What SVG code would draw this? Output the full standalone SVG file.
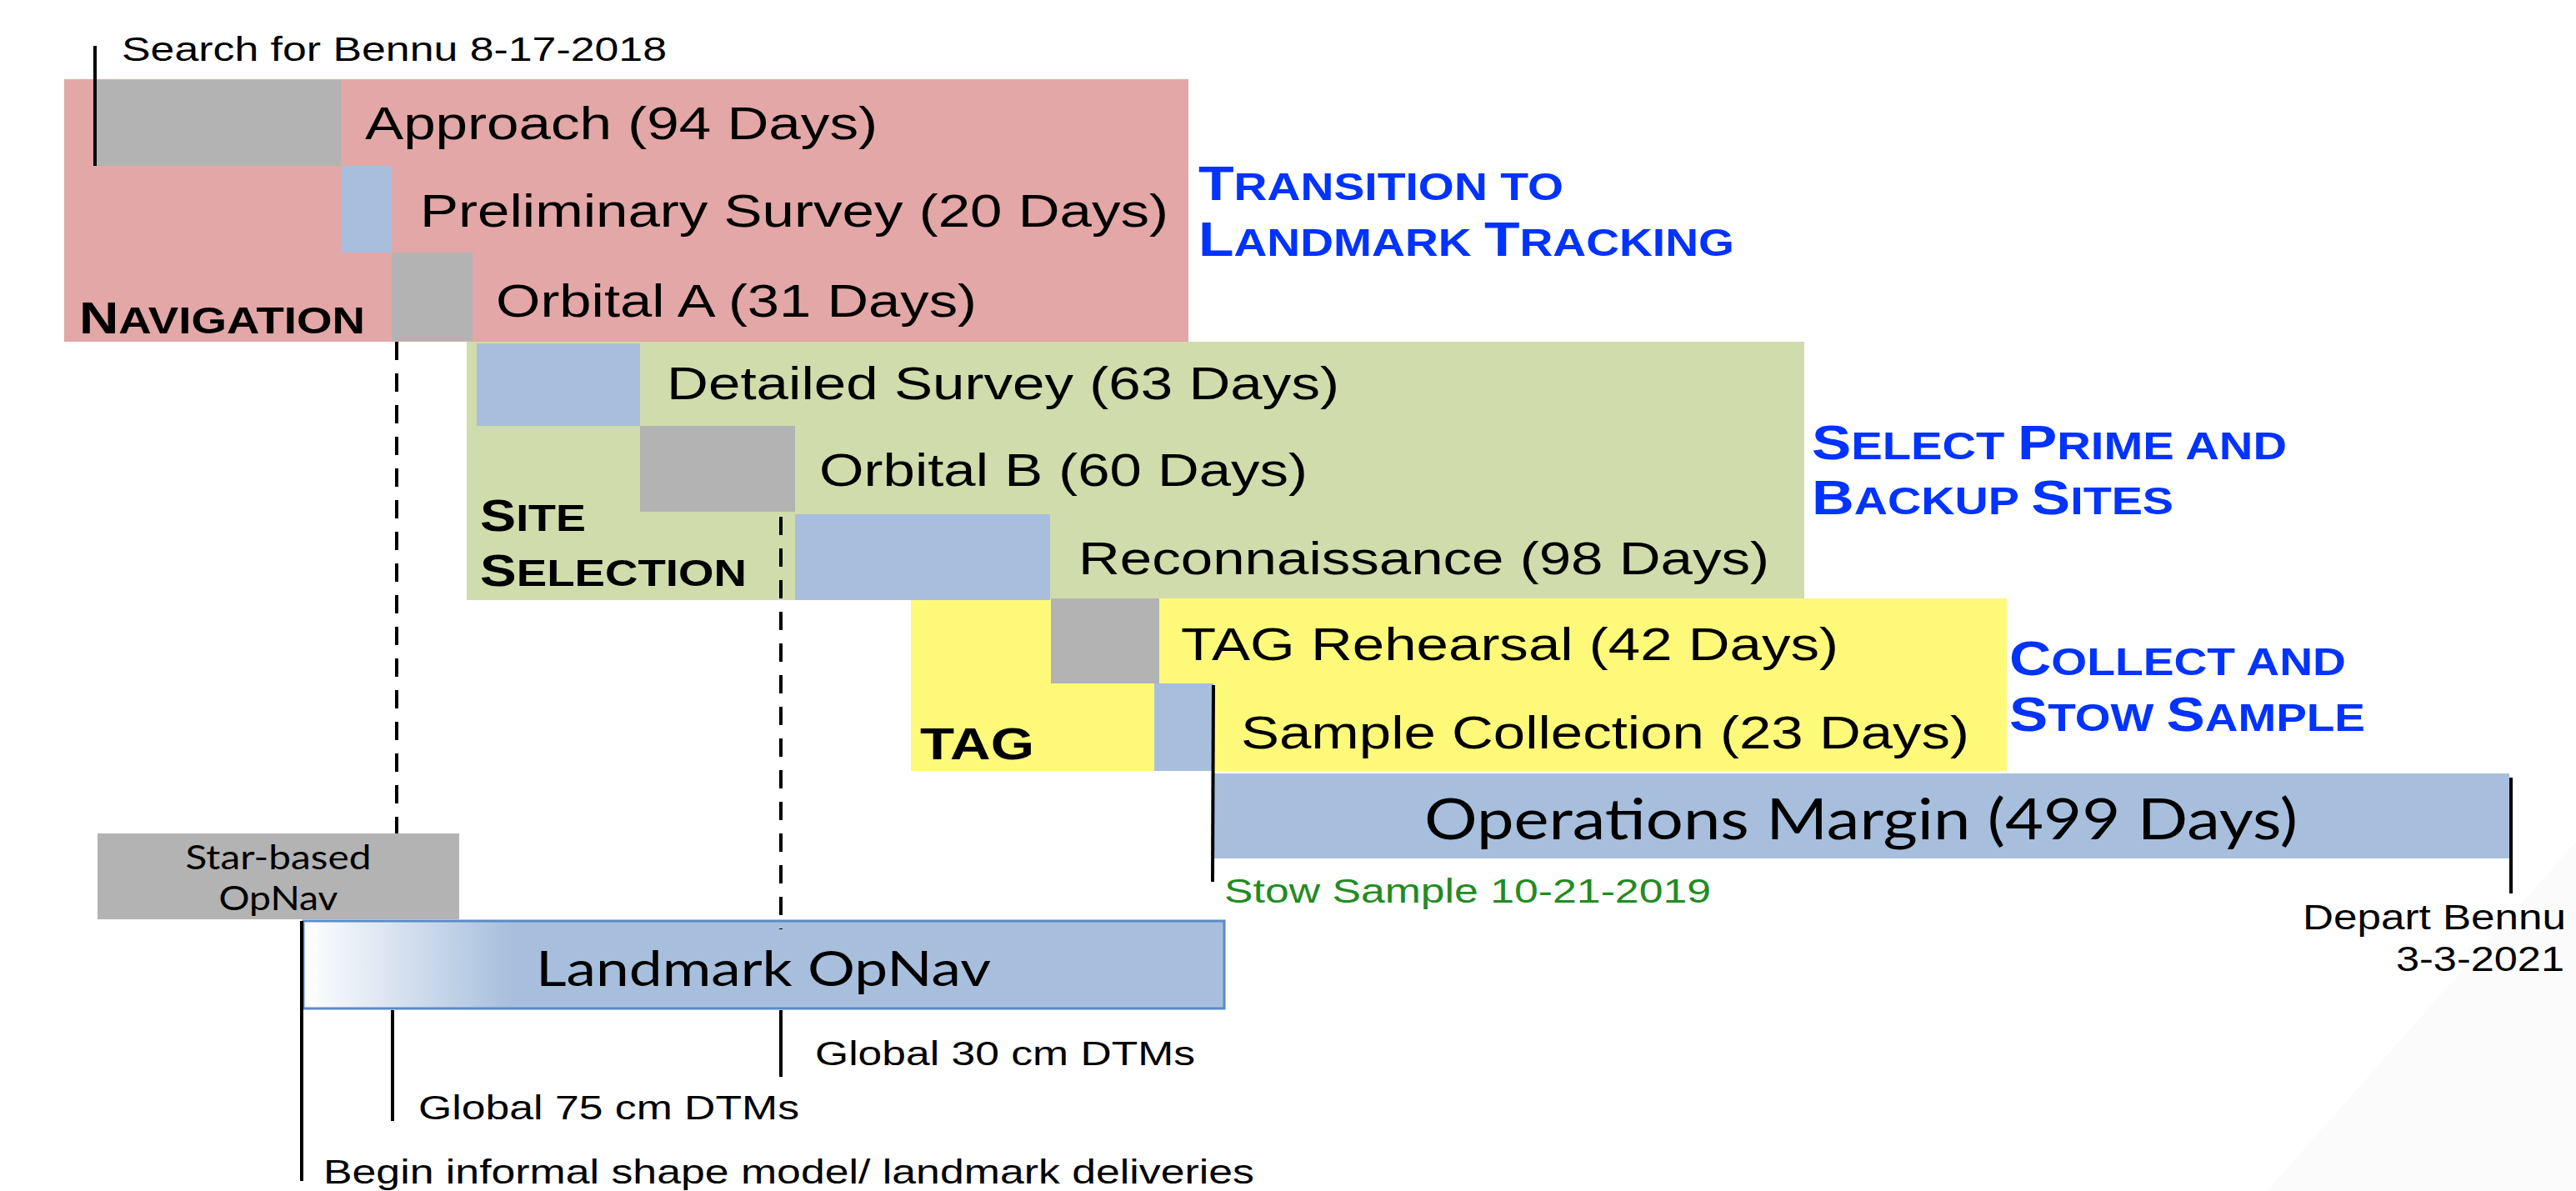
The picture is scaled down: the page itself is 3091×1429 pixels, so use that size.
<svg xmlns="http://www.w3.org/2000/svg" width="3091" height="1429" viewBox="0 0 3091 1429">
<defs>
<style>
.t{font-family:"Liberation Sans",Arial,sans-serif;fill:#000}
.ph{font-size:56px}
.sm{font-size:40px}
.cal{font-family:Lato,"Open Sans",sans-serif;fill:#000}
.lb{font-family:"Liberation Sans",Arial,sans-serif;font-weight:bold;fill:#000}
.bl{font-family:"Liberation Sans",Arial,sans-serif;font-weight:bold;fill:#0033FF}
.pink{fill:#E2A7A6}
.green{fill:#D0DCAB}
.yellow{fill:#FFF97A}
.gray{fill:#B3B3B3}
.blue{fill:#A7BFDD}
.solid{stroke:#000;stroke-width:4;fill:none}
.dash{stroke:#000;stroke-width:4;fill:none;stroke-dasharray:22 16}
</style>
<linearGradient id="lmGrad" x1="0" y1="0" x2="1" y2="0">
<stop offset="0" stop-color="#FFFFFF"/>
<stop offset="0.225" stop-color="#A7BFDD"/>
<stop offset="1" stop-color="#A7BFDD"/>
</linearGradient>
</defs>
<rect x="0" y="0" width="3091" height="1429" fill="#FFFFFF"/>
<polygon points="2720,1429 3091,1010 3091,1429" fill="#FBFBFB"/>

<g id="navigation">
<rect class="pink" x="77" y="95" width="1349" height="315"/>
<text class="lb" x="95" y="400" textLength="343" lengthAdjust="spacingAndGlyphs"><tspan font-size="54">N</tspan><tspan font-size="45">AVIGATION</tspan></text>
</g>
<g id="site-selection">
<rect class="green" x="560" y="410" width="1605" height="310"/>
<text class="lb" x="576" y="637" textLength="127" lengthAdjust="spacingAndGlyphs"><tspan font-size="54">S</tspan><tspan font-size="45">ITE</tspan></text>
<text class="lb" x="576" y="703" textLength="320" lengthAdjust="spacingAndGlyphs"><tspan font-size="54">S</tspan><tspan font-size="45">ELECTION</tspan></text>
</g>
<g id="tag">
<rect class="yellow" x="1093" y="718" width="1315" height="207"/>
<text class="lb" x="1104" y="911" font-size="54" textLength="137" lengthAdjust="spacingAndGlyphs">TAG</text>
</g>

<g id="approach">
<rect class="gray" x="116" y="96" width="293" height="103"/>
<text class="t ph" x="438" y="167" textLength="615" lengthAdjust="spacingAndGlyphs">Approach (94 Days)</text>
</g>
<g id="preliminary-survey">
<rect class="blue" x="409" y="199" width="61" height="104"/>
<text class="t ph" x="504" y="272" textLength="898" lengthAdjust="spacingAndGlyphs">Preliminary Survey (20 Days)</text>
</g>
<g id="orbital-a">
<rect class="gray" x="470" y="303" width="97" height="106"/>
<text class="t ph" x="595" y="380" textLength="577" lengthAdjust="spacingAndGlyphs">Orbital A (31 Days)</text>
</g>
<g id="detailed-survey">
<rect class="blue" x="572" y="412" width="196" height="99"/>
<text class="t ph" x="800" y="479" textLength="807" lengthAdjust="spacingAndGlyphs">Detailed Survey (63 Days)</text>
</g>
<g id="orbital-b">
<rect class="gray" x="768" y="511" width="186" height="103"/>
<text class="t ph" x="983" y="583" textLength="586" lengthAdjust="spacingAndGlyphs">Orbital B (60 Days)</text>
</g>
<g id="reconnaissance">
<rect class="blue" x="954" y="617" width="306" height="103"/>
<text class="t ph" x="1294" y="689" textLength="829" lengthAdjust="spacingAndGlyphs">Reconnaissance (98 Days)</text>
</g>
<g id="tag-rehearsal">
<rect class="gray" x="1261" y="718" width="130" height="102"/>
<text class="t ph" x="1417" y="792" textLength="789" lengthAdjust="spacingAndGlyphs">TAG Rehearsal (42 Days)</text>
</g>
<g id="sample-collection">
<rect class="blue" x="1385" y="820" width="71" height="105"/>
<text class="t ph" x="1489" y="898" textLength="874" lengthAdjust="spacingAndGlyphs">Sample Collection (23 Days)</text>
</g>
<g id="operations-margin">
<rect class="blue" x="1456" y="928" width="1555" height="102"/>
<text class="cal" x="1709" y="1007" font-size="67" textLength="1048" lengthAdjust="spacingAndGlyphs">Operations Margin (499 Days)</text>
</g>

<g id="goal-landmark-tracking">
<text class="bl" x="1438" y="240" textLength="438" lengthAdjust="spacingAndGlyphs"><tspan font-size="58">T</tspan><tspan font-size="46">RANSITION TO</tspan></text>
<text class="bl" x="1438" y="307" textLength="643" lengthAdjust="spacingAndGlyphs"><tspan font-size="58">L</tspan><tspan font-size="46">ANDMARK </tspan><tspan font-size="58">T</tspan><tspan font-size="46">RACKING</tspan></text>
</g>
<g id="goal-select-sites">
<text class="bl" x="2174" y="551" textLength="570" lengthAdjust="spacingAndGlyphs"><tspan font-size="58">S</tspan><tspan font-size="46">ELECT </tspan><tspan font-size="58">P</tspan><tspan font-size="46">RIME AND</tspan></text>
<text class="bl" x="2174" y="617" textLength="434" lengthAdjust="spacingAndGlyphs"><tspan font-size="58">B</tspan><tspan font-size="46">ACKUP </tspan><tspan font-size="58">S</tspan><tspan font-size="46">ITES</tspan></text>
</g>
<g id="goal-collect-sample">
<text class="bl" x="2411" y="810" textLength="404" lengthAdjust="spacingAndGlyphs"><tspan font-size="58">C</tspan><tspan font-size="46">OLLECT AND</tspan></text>
<text class="bl" x="2411" y="877" textLength="427" lengthAdjust="spacingAndGlyphs"><tspan font-size="58">S</tspan><tspan font-size="46">TOW </tspan><tspan font-size="58">S</tspan><tspan font-size="46">AMPLE</tspan></text>
</g>

<g id="star-based-opnav">
<rect class="gray" x="117" y="1000" width="434" height="103"/>
<text class="cal" x="334" y="1043" font-size="40" text-anchor="middle" textLength="223" lengthAdjust="spacingAndGlyphs">Star-based</text>
<text class="cal" x="334" y="1092" font-size="40" text-anchor="middle" textLength="143" lengthAdjust="spacingAndGlyphs">OpNav</text>
</g>
<g id="landmark-opnav">
<rect x="364" y="1105" width="1105" height="105" fill="url(#lmGrad)" stroke="#5B8AC6" stroke-width="3"/>
<text class="cal" x="643" y="1183" font-size="59" textLength="546" lengthAdjust="spacingAndGlyphs">Landmark OpNav</text>
</g>

<g id="connectors">
<line class="solid" x1="114" y1="55" x2="114" y2="199"/>
<line class="dash" x1="476" y1="410" x2="476" y2="1000"/>
<line class="dash" x1="937" y1="620" x2="937" y2="1115"/>
<line class="solid" x1="1456" y1="822" x2="1455" y2="1058"/>
<line class="solid" x1="3013" y1="933" x2="3013" y2="1072"/>
<line class="solid" x1="362" y1="1105" x2="362" y2="1417"/>
<line class="solid" x1="471" y1="1212" x2="471" y2="1345"/>
<line class="solid" x1="937" y1="1212" x2="937" y2="1292"/>
</g>

<g id="milestones">
<text class="t sm" x="146" y="73" textLength="654" lengthAdjust="spacingAndGlyphs">Search for Bennu 8-17-2018</text>
<text class="sm" x="1469" y="1083" font-family="Liberation Sans, Arial, sans-serif" fill="#228B22" textLength="584" lengthAdjust="spacingAndGlyphs">Stow Sample 10-21-2019</text>
<text class="t" x="2763" y="1115" font-size="42" textLength="316" lengthAdjust="spacingAndGlyphs">Depart Bennu</text>
<text class="t" x="2875" y="1165" font-size="42" textLength="202" lengthAdjust="spacingAndGlyphs">3-3-2021</text>
<text class="t sm" x="978" y="1278" textLength="456" lengthAdjust="spacingAndGlyphs">Global 30 cm DTMs</text>
<text class="t sm" x="502" y="1343" textLength="457" lengthAdjust="spacingAndGlyphs">Global 75 cm DTMs</text>
<text class="t sm" x="388" y="1420" textLength="1117" lengthAdjust="spacingAndGlyphs">Begin informal shape model/ landmark deliveries</text>
</g>
</svg>
